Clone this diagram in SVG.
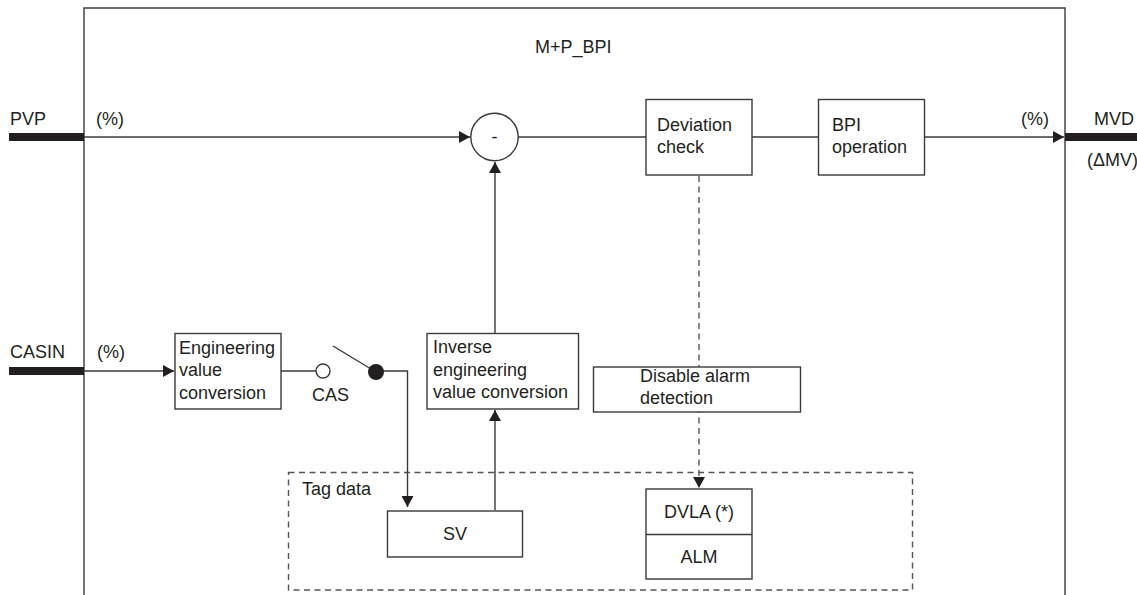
<svg xmlns="http://www.w3.org/2000/svg" width="1137" height="595" viewBox="0 0 1137 595">
<style>
text{font-family:"Liberation Sans",Arial,sans-serif;font-size:18px;fill:#231f20}
.box{fill:#fff;stroke:#3a3a3a;stroke-width:1.4}
.ln{fill:none;stroke:#3a3a3a;stroke-width:1.4}
.dash{fill:none;stroke:#555;stroke-width:1.4;stroke-dasharray:6 4.5}
.bar{fill:#231f20}
.mid{text-anchor:middle}
</style>
<defs>
<marker id="ah" markerUnits="userSpaceOnUse" markerWidth="12" markerHeight="12" refX="11" refY="6" orient="auto">
<path d="M0,0 L11,6 L0,12 Z" fill="#231f20"/>
</marker>
</defs>
<g id="frame">
<path class="ln" d="M84,600 V8 H1065 V600" stroke-width="1.6"/>
<text x="535" y="53">M+P_BPI</text>
</g>
<g id="tagdata">
<rect x="288.5" y="472.5" width="624" height="117.5" class="dash" stroke="#333"/>
<text x="302" y="495">Tag data</text>
</g>
<g id="connectors">
<line class="ln" x1="84" y1="137" x2="470" y2="137" marker-end="url(#ah)"/>
<line class="ln" x1="518" y1="137" x2="646" y2="137"/>
<line class="ln" x1="752" y1="137" x2="818" y2="137"/>
<line class="ln" x1="924" y1="137" x2="1064" y2="137" marker-end="url(#ah)"/>
<line class="ln" x1="84" y1="371" x2="174" y2="371" marker-end="url(#ah)"/>
<line class="ln" x1="281" y1="371" x2="316" y2="371"/>
<line class="ln" x1="333" y1="346" x2="376" y2="372"/>
<polyline class="ln" points="376,371 407.5,371 407.5,507" marker-end="url(#ah)"/>
<line class="ln" x1="495" y1="510" x2="495" y2="410" marker-end="url(#ah)"/>
<line class="ln" x1="495" y1="333" x2="495" y2="162" marker-end="url(#ah)"/>
<line class="dash" x1="699" y1="176" x2="699" y2="488" marker-end="url(#ah)"/>
</g>
<g id="pvp">
<rect class="bar" x="9" y="133" width="75" height="8"/>
<text x="10" y="125">PVP</text>
<text x="96" y="125">(%)</text>
</g>
<g id="casin">
<rect class="bar" x="9" y="367" width="75" height="8"/>
<text x="10" y="358">CASIN</text>
<text x="97" y="358">(%)</text>
</g>
<g id="mvd">
<rect class="bar" x="1065" y="133" width="72" height="8"/>
<text x="1021" y="125">(%)</text>
<text x="1094" y="125">MVD</text>
<text x="1087" y="166">(ΔMV)</text>
</g>
<g id="subtract">
<circle cx="494.5" cy="137" r="23.7" class="box"/>
<text x="494.5" y="143" class="mid">-</text>
</g>
<g id="deviation">
<rect x="646" y="99.5" width="106" height="75.5" class="box"/>
<text x="657" y="131">Deviation</text>
<text x="657" y="153">check</text>
</g>
<g id="bpi">
<rect x="818.5" y="99.5" width="106" height="75.5" class="box"/>
<text x="832" y="131">BPI</text>
<text x="832" y="153">operation</text>
</g>
<g id="engconv">
<rect x="175" y="333.5" width="106" height="75.5" class="box"/>
<text x="179" y="354">Engineering</text>
<text x="179" y="376">value</text>
<text x="179" y="399">conversion</text>
</g>
<g id="cas">
<circle cx="323" cy="371" r="7" class="box"/>
<circle cx="376" cy="372" r="8" fill="#231f20"/>
<text x="312" y="401">CAS</text>
</g>
<g id="invconv">
<rect x="427" y="333.5" width="151.5" height="75.5" class="box"/>
<text x="433" y="353">Inverse</text>
<text x="433" y="376">engineering</text>
<text x="433" y="398">value conversion</text>
</g>
<g id="disable">
<rect x="593.5" y="367" width="207" height="45" class="box"/>
<text x="640" y="382">Disable alarm</text>
<text x="640" y="404">detection</text>
</g>
<g id="sv">
<rect x="387.5" y="511" width="135" height="46" class="box"/>
<text x="455" y="540" class="mid">SV</text>
</g>
<g id="dvla">
<rect x="646" y="489" width="106" height="90" class="box"/>
<line class="ln" x1="646" y1="534.5" x2="752" y2="534.5"/>
<text x="699" y="518" class="mid">DVLA (*)</text>
<text x="699" y="563" class="mid">ALM</text>
</g>
</svg>
